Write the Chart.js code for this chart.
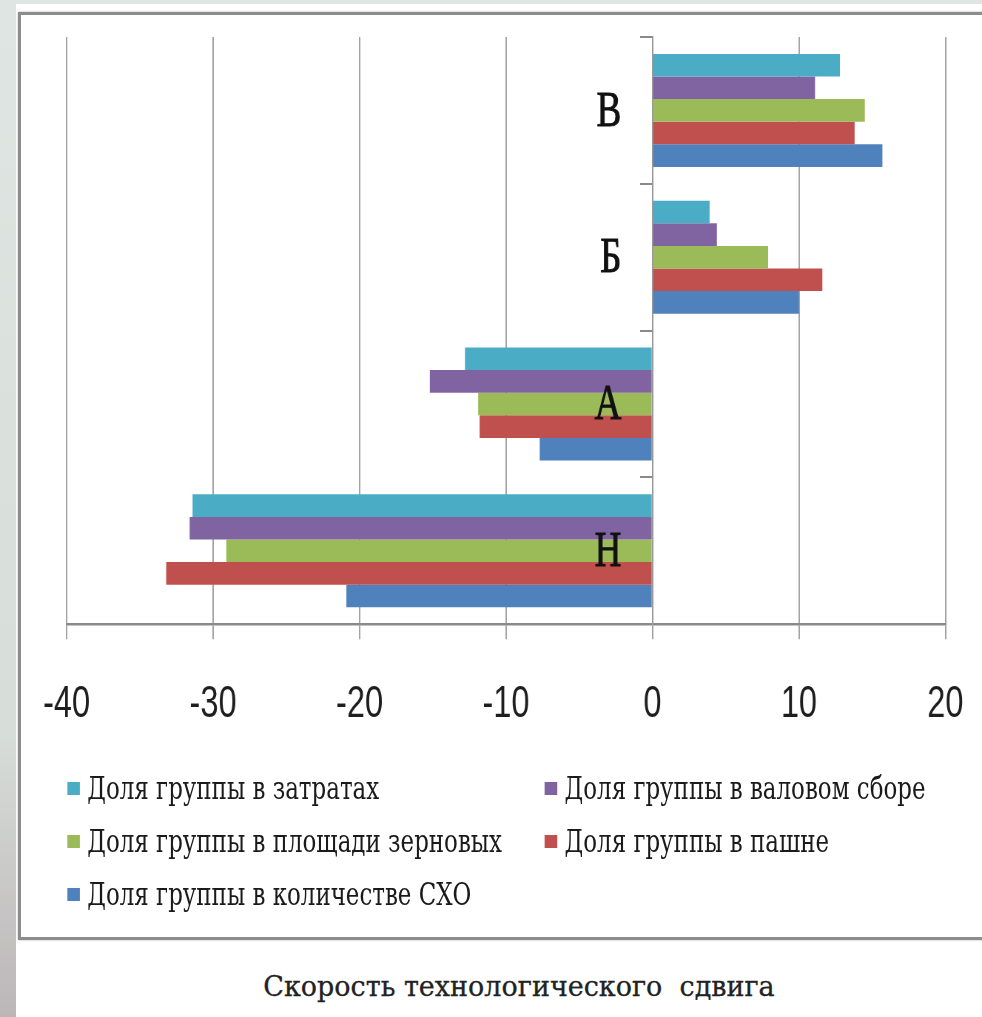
<!DOCTYPE html>
<html lang="ru">
<head>
<meta charset="utf-8">
<title>Скорость технологического сдвига</title>
<script src="https://cdn.jsdelivr.net/npm/chart.js@4.4.1/dist/chart.umd.min.js"></script>
<style>
    html, body { margin: 0; padding: 0; }
    body {
        width: 982px; height: 1017px; position: relative; overflow: hidden;
        background: linear-gradient(to bottom, #dfe5e2 0%, #d7ddd9 72%, #bcb6b8 100%);
    }
    #sheet { position: absolute; left: 16px; top: 4px; right: 0; bottom: 0; background: #fff; }
    #frame {
        position: absolute; left: 18px; top: 12px; width: 1000px; height: 922px;
        border: 3px solid #8d8d8d; box-shadow: 0 0 2px #b5b5b5;
    }
    /* всё содержимое диаграммы сжато по горизонтали, как на исходной картинке */
    #squeeze {
        position: absolute; left: 0; top: 0; width: 1341px; height: 940px;
        transform: scaleX(0.74); transform-origin: 0 0;
    }
    #activityChart { position: absolute; left: 0; top: 0; }
    .legend-item {
        position: absolute; display: flex; align-items: center;
        font-family: 'DejaVu Serif', serif; font-size: 31px; color: #1a1a1a; white-space: nowrap;
    }
    .legend-box { width: 17px; height: 13px; margin-right: 10px; }
    #caption {
        position: absolute; left: 0; width: 1038px; top: 971px; text-align: center;
        font-family: 'DejaVu Serif', serif; font-size: 27px; color: #222;
        -webkit-text-stroke: 0.3px #222;
    }
</style>
</head>
<body>
<div id="sheet"></div>
<div id="frame"></div>
<div id="squeeze">
    <canvas id="activityChart" width="1341" height="790"></canvas>
    <div id="legend"></div>
</div>
<div id="caption">Скорость технологического&nbsp; сдвига</div>

<script>
// Группы (сверху вниз)
const categories = ['В', 'Б', 'А', 'Н'];
// Названия рядов
const seriesNames = [
    'Доля группы в затратах',
    'Доля группы в валовом сборе',
    'Доля группы в площади зерновых',
    'Доля группы в пашне',
    'Доля группы в количестве СХО'
];
// Значения рядов по группам
const costShare = [12.8, 3.9, -12.8, -31.4];
const grossShare = [11.1, 4.4, -15.2, -31.6];
const grainShare = [14.5, 7.9, -11.9, -29.1];
const plowShare = [13.8, 11.6, -11.8, -33.2];
const farmShare = [15.7, 10.0, -7.7, -20.9];
// Подписи оси X
const xTicks = [-40, -30, -20, -10, 0, 10, 20];

const seriesValues = [costShare, grossShare, grainShare, plowShare, farmShare];
const seriesColors = ['#4bacc6', '#8064a2', '#9bbb59', '#c0504d', '#4f81bd'];

// Плагин: буквы групп рядом с нулевой линией
const groupLabels = {
    id: 'groupLabels',
    afterDatasetsDraw(chart) {
        const ctx = chart.ctx;
        const xScale = chart.scales.x;
        const yScale = chart.scales.y;
        const x0 = xScale.getPixelForValue(0) - 42;
        ctx.save();
        ctx.font = '50px "Liberation Serif", serif';
        ctx.fillStyle = '#111';
        ctx.strokeStyle = '#111';
        ctx.lineWidth = 1;
        ctx.textAlign = 'right';
        ctx.textBaseline = 'middle';
        categories.forEach((label, i) => {
            const y = yScale.getPixelForValue(i) + 2;
            ctx.fillText(label, x0, y);
            ctx.strokeText(label, x0, y);
        });
        ctx.restore();
    }
};

const ctx = document.getElementById('activityChart').getContext('2d');

const chart = new Chart(ctx, {
    type: 'bar',
    data: {
        labels: categories,
        datasets: seriesNames.map((name, i) => ({
            label: name,
            data: seriesValues[i],
            backgroundColor: seriesColors[i],
            borderWidth: 0,
            categoryPercentage: 0.77,
            barPercentage: 1.0
        }))
    },
    options: {
        indexAxis: 'y',
        responsive: false,
        animation: false,
        devicePixelRatio: 1,
        layout: { padding: { left: 90, right: 40, top: 37, bottom: 20 } },
        plugins: {
            legend: { display: false },
            tooltip: { enabled: false }
        },
        scales: {
            x: {
                min: xTicks[0],
                max: xTicks[xTicks.length - 1],
                afterBuildTicks: scale => { scale.ticks = xTicks.map(v => ({ value: v })); },
                grid: { color: '#a3a3a3', lineWidth: 2, tickLength: 15 },
                border: { color: '#8a8a8a', width: 2.5 },
                ticks: {
                    padding: 39,
                    color: '#1e1e1e',
                    font: { family: '"Liberation Sans", sans-serif', size: 44 }
                }
            },
            y: {
                position: { x: 0 },
                offset: true,
                grid: { drawOnChartArea: false, color: '#8a8a8a', lineWidth: 2, tickLength: 16 },
                border: { color: '#999', width: 2 },
                ticks: { display: false }
            }
        }
    },
    plugins: [groupLabels]
});

// Легенда в две колонки
function buildLegend() {
    const legendElement = document.getElementById('legend');
    legendElement.innerHTML = '';
    chart.data.datasets.forEach((ds, i) => {
        const item = document.createElement('div');
        item.className = 'legend-item';
        item.style.left = (i % 2 === 0 ? 91 : 736) + 'px';
        item.style.top = (770 + Math.floor(i / 2) * 53) + 'px';
        const box = document.createElement('span');
        box.className = 'legend-box';
        box.style.background = ds.backgroundColor;
        const text = document.createElement('span');
        text.textContent = ds.label;
        item.appendChild(box);
        item.appendChild(text);
        legendElement.appendChild(item);
    });
}

buildLegend();
</script>
</body>
</html>
